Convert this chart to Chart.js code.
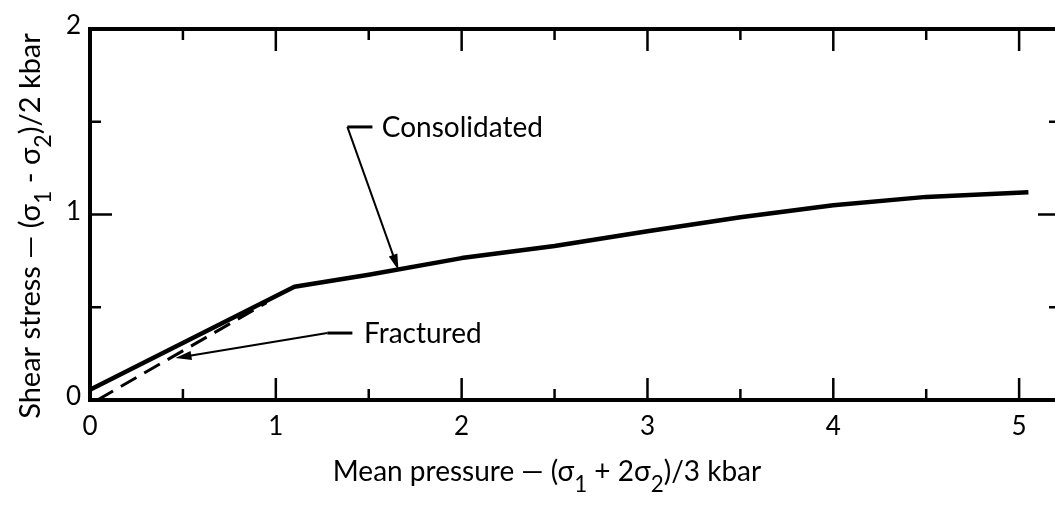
<!DOCTYPE html>
<html>
<head>
<meta charset="utf-8">
<script src="https://cdn.jsdelivr.net/npm/chart.js@4.4.1/dist/chart.umd.min.js"></script>
<style>
  html, body { margin: 0; padding: 0; background: #fff; overflow: hidden; }
  #wrap { width: 1065px; height: 508px; }
</style>
</head>
<body>
<div id="wrap"><canvas id="chart"></canvas></div>
<script>
/* ── data ── */
const consolidatedX = [0, 1.1, 1.5, 2, 2.5, 3, 3.5, 4, 4.5, 5.05];
const consolidatedY = [0.055, 0.61, 0.675, 0.765, 0.83, 0.91, 0.985, 1.05, 1.095, 1.12];
const fracturedX = [0.04, 0.95];
const fracturedY = [0, 0.525];

const xMajor = [0, 1, 2, 3, 4, 5];
const xMinor = [0.5, 1.5, 2.5, 3.5, 4.5];
const yMajor = [0, 1, 2];
const yMinor = [0.5, 1.5];

const xTitle = [{ t: 'Mean pressure — (σ' }, { t: '1', sub: true }, { t: ' + 2σ' }, { t: '2', sub: true }, { t: ')/3 kbar' }];
const yTitle = [{ t: 'Shear stress — (σ' }, { t: '1', sub: true }, { t: ' - σ' }, { t: '2', sub: true }, { t: ')/2 kbar' }];

// annotations in data space: tip, elbow, end of short bar, text start
const notes = [
  { text: 'Consolidated', tip: [1.66, 0.70], elbow: [1.385, 1.472], bar: [1.52, 1.472], at: [1.57, 1.472] },
  { text: 'Fractured',    tip: [0.46, 0.226], elbow: [1.277, 0.361], bar: [1.412, 0.361], at: [1.475, 0.361] }
];

const FONT = 'Lato, "Open Sans", sans-serif';

const pts = (xs, ys) => xs.map((v, i) => ({ x: v, y: ys[i] }));

function richText(ctx, parts, size) {
  let w = 0;
  parts.forEach(p => {
    ctx.font = `${p.sub ? size * 0.8 : size}px ${FONT}`;
    p.w = ctx.measureText(p.t).width;
    w += p.w;
  });
  return w;
}
function drawRich(ctx, parts, size, x0, base) {
  let x = x0;
  parts.forEach(p => {
    ctx.font = `${p.sub ? size * 0.8 : size}px ${FONT}`;
    ctx.fillText(p.t, x, base + (p.sub ? size * 0.38 : 0));
    x += p.w;
  });
}

function arrowHead(ctx, fx, fy, tx, ty, len, half) {
  const a = Math.atan2(ty - fy, tx - fx);
  ctx.beginPath();
  ctx.moveTo(tx, ty);
  ctx.lineTo(tx - len * Math.cos(a) + half * Math.sin(a), ty - len * Math.sin(a) - half * Math.cos(a));
  ctx.lineTo(tx - len * Math.cos(a) - half * Math.sin(a), ty - len * Math.sin(a) + half * Math.cos(a));
  ctx.closePath();
  ctx.fill();
}

const decor = {
  id: 'decor',
  afterDraw(chart) {
    const { ctx, chartArea: a, scales: { x, y } } = chart;
    ctx.save();
    ctx.strokeStyle = '#000';
    ctx.fillStyle = '#000';

    // frame
    ctx.lineWidth = 4;
    ctx.strokeRect(a.left, a.top, a.right - a.left, a.bottom - a.top);

    // inward ticks on all four sides
    ctx.lineWidth = 2.5;
    const seg = (x1, y1, x2, y2) => { ctx.beginPath(); ctx.moveTo(x1, y1); ctx.lineTo(x2, y2); ctx.stroke(); };
    [[xMajor, 22], [xMinor, 11]].forEach(([vals, len]) => vals.forEach(v => {
      const px = x.getPixelForValue(v);
      seg(px, a.bottom, px, a.bottom - len);
      seg(px, a.top, px, a.top + len);
    }));
    [[yMajor, 22], [yMinor, 11]].forEach(([vals, len]) => vals.forEach(v => {
      const py = y.getPixelForValue(v);
      seg(a.left, py, a.left + len, py);
      seg(a.right, py, a.right - len, py);
    }));

    // annotations
    ctx.textBaseline = 'middle';
    notes.forEach(n => {
      const tp = [x.getPixelForValue(n.tip[0]), y.getPixelForValue(n.tip[1])];
      const el = [x.getPixelForValue(n.elbow[0]), y.getPixelForValue(n.elbow[1])];
      const br = [x.getPixelForValue(n.bar[0]), y.getPixelForValue(n.bar[1])];
      ctx.lineWidth = 3;
      seg(el[0], el[1], br[0], br[1]);
      ctx.lineWidth = 2;
      const len = 16;
      const ang = Math.atan2(tp[1] - el[1], tp[0] - el[0]);
      seg(el[0], el[1], tp[0] - len * 0.8 * Math.cos(ang), tp[1] - len * 0.8 * Math.sin(ang));
      arrowHead(ctx, el[0], el[1], tp[0], tp[1], len, 4.5);
      ctx.font = `28px ${FONT}`;
      ctx.textAlign = 'left';
      ctx.fillText(n.text, x.getPixelForValue(n.at[0]), y.getPixelForValue(n.at[1]) + 1);
    });

    // axis titles with subscripts
    ctx.textBaseline = 'alphabetic';
    ctx.textAlign = 'left';
    const wx = richText(ctx, xTitle, 28);
    drawRich(ctx, xTitle, 28, 547 - wx / 2, 481);

    const wy = richText(ctx, yTitle, 29);
    ctx.translate(40, 226);
    ctx.rotate(-Math.PI / 2);
    drawRich(ctx, yTitle, 29, -wy / 2, 0);
    ctx.restore();
  }
};

new Chart(document.getElementById('chart'), {
  type: 'scatter',
  data: {
    datasets: [
      {
        label: 'Consolidated',
        data: pts(consolidatedX, consolidatedY),
        showLine: true,
        borderColor: '#000',
        borderWidth: 4.5,
        pointRadius: 0,
        tension: 0,
        borderJoinStyle: 'round'
      },
      {
        label: 'Fractured',
        data: pts(fracturedX, fracturedY),
        showLine: true,
        borderColor: '#000',
        borderWidth: 3,
        borderDash: [18, 9],
        pointRadius: 0
      }
    ]
  },
  options: {
    responsive: true, maintainAspectRatio: false,
    animation: false,
    layout: { padding: { top: 29, right: 5, left: 0, bottom: 0 } },
    plugins: { legend: { display: false }, tooltip: { enabled: false } },
    scales: {
      x: {
        type: 'linear', min: 0, max: 5.22,
        grid: { display: false }, border: { display: false },
        afterFit: s => { s.height = 108; },
        afterBuildTicks: s => { s.ticks = xMajor.map(v => ({ value: v })); },
        ticks: {
          autoSkip: false, maxRotation: 0, padding: 3,
          color: '#000', font: { family: FONT, size: 26 }
        }
      },
      y: {
        type: 'linear', min: 0, max: 2,
        grid: { display: false }, border: { display: false },
        afterFit: s => { s.width = 90; },
        afterBuildTicks: s => { s.ticks = yMajor.map(v => ({ value: v })); },
        ticks: {
          autoSkip: false, padding: 1, labelOffset: -3,
          color: '#000', font: { family: FONT, size: 26 }
        }
      }
    }
  },
  plugins: [decor]
});
</script>
</body>
</html>
